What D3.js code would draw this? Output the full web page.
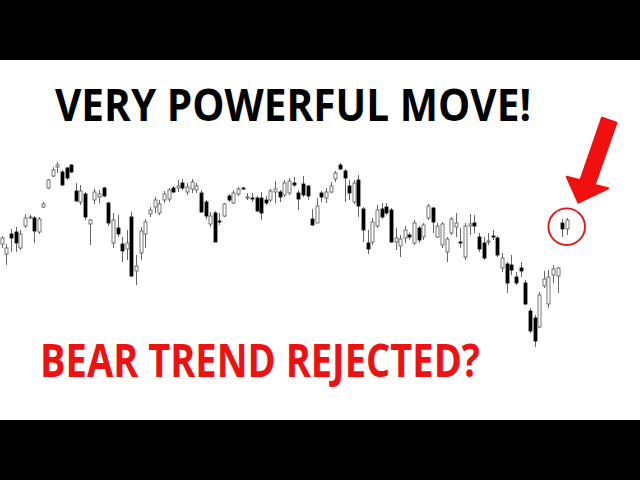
<!DOCTYPE html>
<html>
<head>
<meta charset="utf-8">
<script src="https://cdn.jsdelivr.net/npm/d3@7"></script>
<style>
  html, body { margin: 0; padding: 0; background: #000; }
  svg { display: block; }
</style>
</head>
<body>
<svg id="chart" width="640" height="480"></svg>
<script>
// ---- Data (daily candles) ----
const open = [3756,3746,3766,3768,3752,3774,3782,3782,3768,3793,3812,3824,3833,3828,3832,3835,3809,3798,3806,3776,
  3800,3803,3812,3797,3757,3772,3756,3751,3783,3729,3747,3766,3786,3793,3787,3800,3801,3812,3812,3817,
  3808,3811,3810,3807,3798,3776,3787,3779,3784,3804,3797,3806,3812,3802,3802,3802,3802,3800,3800,3808,
  3808,3805,3807,3817,3807,3816,3814,3781,3777,3807,3802,3808,3821,3835,3829,3814,3798,3820,3791,3757,
  3758,3774,3791,3793,3790,3758,3754,3762,3765,3757,3772,3763,3782,3792,3763,3755,3748,3767,3773,3758,
  3743,3774,3777,3763,3757,3758,3764,3762,3732,3736,3735,3723,3732,3717,3689,3682,3673,3714,3696,3725,
  3724,3777,3771];
const high = [3764,3756,3771,3773,3770,3786,3785,3784,3783,3798,3821,3833,3838,3830,3833,3836,3817,3815,3808,3781,
  3811,3810,3813,3798,3787,3785,3763,3770,3788,3745,3773,3781,3793,3803,3800,3809,3812,3814,3820,3821,
  3817,3821,3817,3810,3800,3788,3789,3787,3797,3806,3810,3813,3813,3807,3807,3804,3808,3804,3811,3819,
  3810,3820,3822,3823,3810,3824,3815,3791,3802,3809,3812,3818,3829,3837,3831,3820,3820,3825,3793,3770,
  3782,3795,3797,3797,3792,3772,3765,3774,3767,3780,3774,3777,3796,3793,3777,3778,3763,3783,3787,3772,
  3777,3786,3785,3767,3763,3767,3770,3764,3747,3738,3745,3728,3738,3720,3692,3685,3708,3729,3730,3735,
  3733,3781,3782];
const low = [3752,3735,3748,3748,3750,3772,3781,3757,3766,3792,3811,3823,3827,3814,3820,3827,3798,3795,3780,3755,
  3796,3797,3803,3774,3752,3763,3738,3740,3723,3715,3740,3752,3783,3787,3785,3797,3798,3807,3808,3810,
  3805,3807,3807,3787,3781,3773,3758,3775,3783,3798,3796,3804,3810,3800,3798,3788,3780,3795,3798,3797,
  3798,3803,3805,3813,3790,3803,3800,3774,3777,3798,3797,3807,3818,3830,3798,3800,3796,3783,3758,3746,
  3755,3772,3781,3785,3757,3750,3743,3757,3760,3755,3757,3760,3780,3767,3762,3752,3738,3765,3763,3752,
  3740,3765,3767,3748,3740,3755,3760,3743,3728,3707,3725,3715,3723,3695,3667,3653,3672,3712,3692,3717,
  3707,3763,3765];
const close = [3762,3752,3762,3757,3766,3782,3783,3769,3781,3796,3820,3830,3835,3815,3822,3828,3799,3809,3783,3780,
  3808,3806,3804,3777,3780,3766,3749,3757,3724,3734,3769,3778,3790,3800,3796,3806,3810,3808,3814,3812,
  3813,3818,3814,3788,3784,3784,3758,3778,3796,3800,3807,3811,3811,3803,3801,3789,3787,3797,3809,3811,
  3803,3817,3819,3815,3801,3805,3804,3775,3794,3803,3808,3814,3827,3831,3822,3807,3817,3794,3770,3751,
  3778,3790,3783,3787,3758,3762,3761,3770,3763,3777,3760,3775,3794,3778,3774,3776,3761,3781,3777,3757,
  3774,3776,3774,3751,3742,3759,3763,3745,3742,3717,3730,3717,3729,3696,3669,3659,3705,3721,3723,3731,
  3732,3771,3780];
const priceDomain = [3640, 3860];
const titleText = "VERY POWERFUL MOVE!";
const subtitleText = "BEAR TREND REJECTED?";

// ---- Drawing ----
const svg = d3.select("#chart");
const W = 640, H = 480;

svg.append("rect").attr("x", 0).attr("y", 0).attr("width", W).attr("height", H).attr("fill", "#000");
svg.append("rect").attr("x", 0).attr("y", 60).attr("width", W).attr("height", 360).attr("fill", "#fff");

const idx = d3.range(open.length);
const x = d3.scalePoint().domain(idx).range([1.7, 567]);
const y = d3.scaleLinear().domain(priceDomain).range([360, 140]);

const candles = idx.map(i => ({ i, o: open[i], h: high[i], l: low[i], c: close[i] }));
const g = svg.append("g");
const bw = 3;

g.selectAll("line.wick").data(candles).join("line")
  .attr("class", "wick")
  .attr("x1", d => Math.round(x(d.i)) + 0.5)
  .attr("x2", d => Math.round(x(d.i)) + 0.5)
  .attr("y1", d => y(d.h))
  .attr("y2", d => y(d.l))
  .attr("stroke", "#666")
  .attr("stroke-width", 1);

g.selectAll("rect.body").data(candles).join("rect")
  .attr("class", "body")
  .attr("x", d => Math.round(x(d.i)) + 0.5 - bw / 2)
  .attr("y", d => y(Math.max(d.o, d.c)))
  .attr("width", bw)
  .attr("height", d => Math.max(1, Math.abs(y(d.o) - y(d.c))))
  .attr("fill", d => d.c >= d.o ? "#fff" : "#000")
  .attr("stroke", d => d.c >= d.o ? "#555" : "#000")
  .attr("stroke-width", 0.8);

// Titles
svg.append("text")
  .attr("x", 293).attr("y", 121)
  .attr("text-anchor", "middle")
  .attr("font-family", "'Open Sans', 'Liberation Sans', sans-serif")
  .attr("font-weight", 700)
  .attr("font-size", 44)
  .attr("textLength", 476)
  .attr("lengthAdjust", "spacingAndGlyphs")
  .attr("fill", "#000")
  .text(titleText);

svg.append("text")
  .attr("x", 260).attr("y", 377)
  .attr("text-anchor", "middle")
  .attr("font-family", "'Open Sans', 'Liberation Sans', sans-serif")
  .attr("font-weight", 700)
  .attr("font-size", 47)
  .attr("textLength", 440)
  .attr("lengthAdjust", "spacingAndGlyphs")
  .attr("fill", "#ee1111")
  .text(subtitleText);

// Arrow and circle annotation
const arrowPts = [[602,117.6],[616.5,122.6],[594.6,184.9],[608.3,188.3],[578.3,202.7],[566.7,176.7],[580.4,180.1]];
svg.append("path")
  .attr("d", d3.line()(arrowPts) + "Z")
  .attr("fill", "#f01010")
  .attr("stroke", "#f01010")
  .attr("stroke-width", 2)
  .attr("stroke-linejoin", "round");

svg.append("circle")
  .attr("cx", 566.7).attr("cy", 226.7).attr("r", 18.3)
  .attr("fill", "none")
  .attr("stroke", "#e01515")
  .attr("stroke-width", 1.8);
</script>
</body>
</html>
